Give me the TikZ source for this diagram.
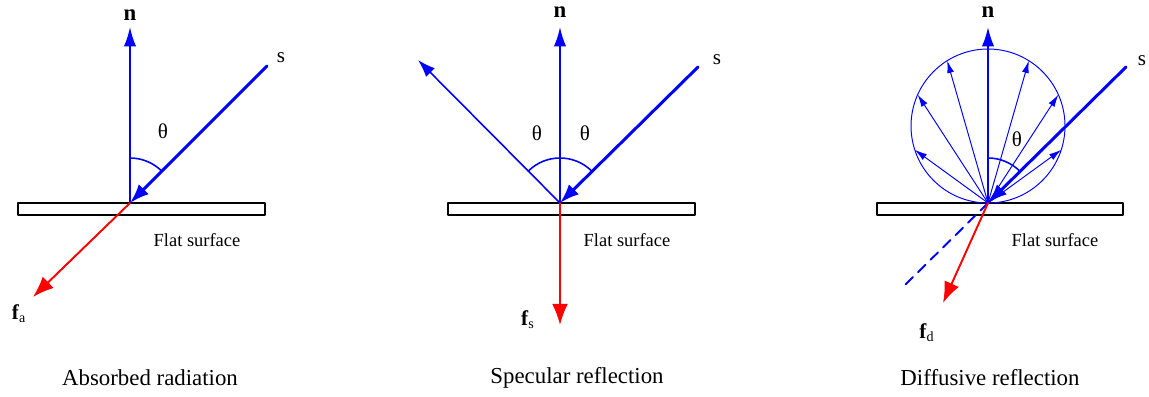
\documentclass[tikz,border=0pt]{standalone}
\usepackage{fontspec}
\setmainfont{Liberation Serif}
\usetikzlibrary{arrows.meta}

\begin{document}
\begin{tikzpicture}[
  x=0.02cm,
  y=0.02cm,
  line cap=round,
  line join=round,
  normal/.style={blue, line width=1.1pt, -{Latex[length=11pt,width=7pt]}},
  incident/.style={blue, line width=1.7pt, -{Latex[length=11pt,width=8pt]}},
  reflected/.style={blue, line width=0.9pt, -{Latex[length=10pt,width=7pt]}},
  ray/.style={blue, line width=0.55pt, -{Latex[length=7pt,width=4pt]}},
  outgoing/.style={red, line width=1.1pt, -{Latex[length=12pt,width=9pt]}},
  slab/.style={draw=black, line width=1.1pt, fill=white},
  angmark/.style={blue, line width=0.9pt},
  vec/.style={inner sep=0pt, font=\fontsize{12}{14}\selectfont},
  small/.style={inner sep=0pt, font=\fontsize{10.5}{12}\selectfont},
  caption/.style={inner sep=0pt, font=\fontsize{13}{15}\selectfont}
]
  \useasboundingbox (0,0) rectangle (1149,396);

  \def\r{45}
  \def\R{77}

  % ---------- Поглощение ----------
  \coordinate (O1) at (130,193);
  \coordinate (N1) at (130,369);
  \coordinate (S1) at (267,330);
  \coordinate (F1) at (33,99);

  % Пластина
  \draw[slab] (18,181) rectangle (265,193);

  % Нормаль и падающий луч
  \draw[normal] (O1) -- (N1);
  \draw[incident] (S1) -- (O1);
  \draw[outgoing] (O1) -- (F1);

  % Угол
  \draw[angmark] (O1) ++(90:\r) arc[start angle=90, end angle=45, radius=\r];

  \node[vec, font=\bfseries\fontsize{13}{14}\selectfont] (n1) at (130,381) {n};
  \node[vec] (s1) at (281,338) {s};
  \node[vec] (t1) at (163,265) {θ};
  \node[vec] (f1) at (19,82) {\textbf{f}\textsubscript{a}};
  \node[small] (fs1) at (197,156) {Flat surface};
  \node[caption] (c1) at (150,18) {Absorbed radiation};

  % ---------- Зеркальное отражение ----------
  \coordinate (O2) at (560,193);
  \coordinate (N2) at (560,369);
  \coordinate (S2) at (698,329);
  \coordinate (P2) at (418,336);
  \coordinate (F2) at (560,71);

  % Пластина
  \draw[slab] (448,181) rectangle (695,193);

  % Нормаль, падающий и отражённый лучи
  \draw[normal] (O2) -- (N2);
  \draw[reflected] (O2) -- (P2);
  \draw[incident] (S2) -- (O2);
  \draw[outgoing] (O2) -- (F2);

  % Углы
  \draw[angmark] (O2) ++(45:\r) arc[start angle=45, end angle=135, radius=\r];

  \node[vec, font=\bfseries\fontsize{13}{14}\selectfont] (n2) at (560,384) {n};
  \node[vec] (s2) at (717,336) {s};
  \node[vec] (t2a) at (537,263) {θ};
  \node[vec] (t2b) at (585,263) {θ};
  \node[vec] (f2) at (528,76) {\textbf{f}\textsubscript{s}};
  \node[small] (fs2) at (627,156) {Flat surface};
  \node[caption] (c2) at (577,18) {Specular reflection};

  % ---------- Диффузное отражение ----------
  \coordinate (O3) at (988,193);
  \coordinate (N3) at (988,369);
  \coordinate (S3) at (1126,329);
  \coordinate (D3) at (905,111);
  \coordinate (F3) at (943,93);

  % Пластина
  \draw[slab] (877,181) rectangle (1123,193);

  % Индикатриса рассеяния
  \draw[blue, line width=0.55pt] (O3) ++(0,\R) circle[radius=\R];

  % Рассеянные лучи
  \foreach \a in {-54,-33,-16,16,33,54}
    \draw[ray] (O3) -- ++({90+\a}:{2*\R*cos(\a)});

  % Нормаль и падающий луч
  \draw[normal] (O3) -- (N3);
  \draw[incident] (S3) -- (O3);
  \draw[blue, line width=1.1pt, dashed, dash pattern=on 6pt off 4pt] (O3) -- (D3);
  \draw[outgoing] (O3) -- (F3);

  % Угол
  \draw[angmark] (O3) ++(90:\r) arc[start angle=90, end angle=45, radius=\r];

  \node[vec, font=\bfseries\fontsize{13}{14}\selectfont] (n3) at (988,384) {n};
  \node[vec] (s3) at (1142,335) {s};
  \node[vec] (t3) at (1017,257) {θ};
  \node[vec] (f3) at (927,63) {\textbf{f}\textsubscript{d}};
  \node[small] (fs3) at (1055,156) {Flat surface};
  \node[caption] (c3) at (990,18) {Diffusive reflection};
\end{tikzpicture}
\end{document}
